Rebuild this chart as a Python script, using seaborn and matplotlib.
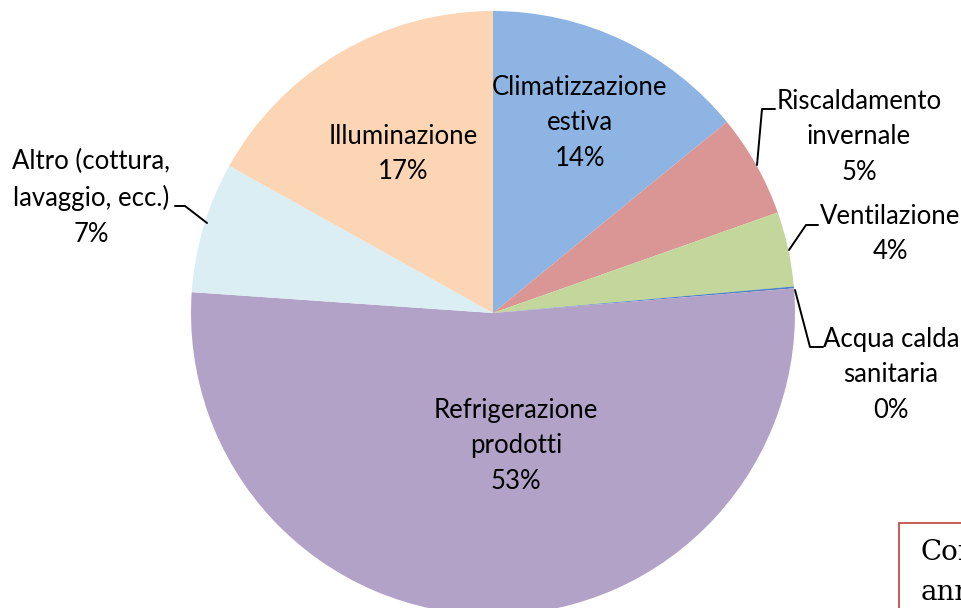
import matplotlib
matplotlib.use("Agg")
import matplotlib.pyplot as plt
import seaborn as sns
from matplotlib.patches import Rectangle

# ==========================================
# DATA
# ==========================================
categories = ["Climatizzazione\nestiva", "Riscaldamento\ninvernale", "Ventilazione",
              "Acqua calda\nsanitaria", "Refrigerazione\nprodotti",
              "Altro (cottura,\nlavaggio, ecc.)", "Illuminazione"]
shares = [14.1, 5.5, 4.0, 0.1, 52.4, 7.0, 16.9]
pct_labels = ["14%", "5%", "4%", "0%", "53%", "7%", "17%"]
colors = ["#8EB4E3", "#D99694", "#C3D69B", "#4F81BD", "#B3A2C7", "#DBEEF4", "#FCD5B5"]

sns.set_theme(style="white")
plt.rcParams["font.family"] = ["Lato", "DejaVu Sans"]

H = 608
fig = plt.figure(figsize=(9.62, 6.08), dpi=100)
ax = fig.add_axes([0, 0, 1, 1])

cx, cy, r = 493, H - 313, 302
ax.pie(shares, colors=sns.color_palette(colors), startangle=90, counterclock=False,
       center=(cx, cy), radius=r, frame=True,
       wedgeprops=dict(linewidth=0))
ax.set_xlim(0, 962)
ax.set_ylim(0, H)
ax.set_aspect("equal")
ax.axis("off")

fs = 18.5
ls = 1.52
# label block centres (pixels from top-left)
label_pos = {0: (580, 123), 1: (859, 137), 2: (890, 234), 3: (891, 375),
             4: (516, 446), 5: (91, 198), 6: (403, 154)}
for i, (x, y) in label_pos.items():
    ax.text(x, H - y, categories[i] + "\n" + pct_labels[i], ha="center", va="center",
            fontsize=fs, linespacing=ls, color="black")

leaders = [
    [(757, 165), (762, 109), (775, 109)],
    [(789, 250), (806, 225), (818, 225)],
    [(795, 290), (810, 347), (823, 347)],
    [(207, 223), (185, 206), (175, 206)],
]
for pts in leaders:
    ax.plot([p[0] for p in pts], [H - p[1] for p in pts], color="black", lw=1.4)

# partially visible text box in the corner
ax.add_patch(Rectangle((899, H - 640), 120, 117, facecolor="white",
                       edgecolor="#C0504D", lw=1.3, clip_on=False))
ax.text(921, H - 553, "Con", fontsize=20, family="DejaVu Serif", va="center", color="black")
ax.text(921, H - 593, "ann", fontsize=20, family="DejaVu Serif", va="center", color="black")

fig.savefig("out.png", dpi=100)
